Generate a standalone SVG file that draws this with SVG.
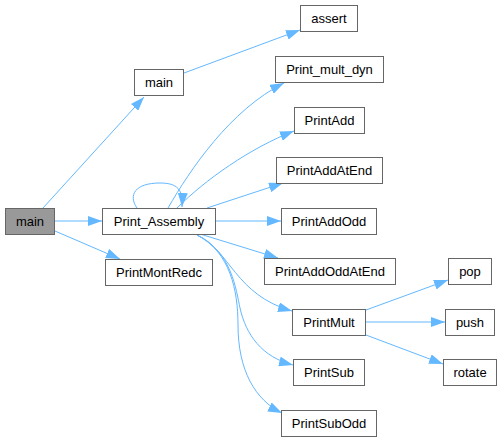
<svg xmlns="http://www.w3.org/2000/svg" width="503" height="443" viewBox="0 0 503 443">
<style>
.n rect{fill:#ffffff;stroke:#666666;stroke-width:1}
.n.g rect{fill:#999999}
.n text{font-family:"Liberation Sans",Arial,sans-serif;font-size:13px;fill:#000000;text-anchor:middle}
.e path{fill:none;stroke:#63b8ff;stroke-width:1;marker-end:url(#ah)}
</style>
<defs>
<marker id="ah" markerUnits="userSpaceOnUse" markerWidth="14" markerHeight="10" refX="14" refY="5" orient="auto" viewBox="0 0 14 10">
<path d="M0,0 L14,5 L0,10 z" fill="#63b8ff" stroke="none"/>
</marker>
</defs>
<rect width="503" height="443" fill="#ffffff"/>
<g id="connectors" class="e">
<path d="M43,208 L144,97"/>
<path d="M55,221 L102,221"/>
<path d="M55,231 L120,259"/>
<path d="M184,73 L300,30"/>
<path d="M137,208 C128,195 135,183 160,183 C178,183 183,190 182,207"/>
<path d="M168,208 C190,170 230,110 284,83"/>
<path d="M177,208 C205,180 250,148 294,131"/>
<path d="M207,208 L283,183"/>
<path d="M216,221 L281,221"/>
<path d="M200,234 L278,258"/>
<path d="M197,235 C230,250 235,295 292,311"/>
<path d="M197,235 C232,252 236,290 240,308 C246,335 262,357 293,365"/>
<path d="M197,235 C230,252 238,290 238,325 C238,370 255,400 282,413"/>
<path d="M366,310 L448,280"/>
<path d="M366,322 L445,322"/>
<path d="M366,335 L443,364"/>
</g>
<g id="main" class="n g"><rect x="5.5" y="208.5" width="49" height="26"/><text x="30" y="226">main</text></g>
<g id="main2" class="n"><rect x="134.5" y="69.5" width="49" height="26"/><text x="159" y="87">main</text></g>
<g id="assert" class="n"><rect x="300.5" y="5.5" width="57" height="26"/><text x="329" y="23">assert</text></g>
<g id="Print_Assembly" class="n"><rect x="102.5" y="208.5" width="113" height="26"/><text x="159" y="226">Print_Assembly</text></g>
<g id="PrintMontRedc" class="n"><rect x="105.5" y="259.5" width="107" height="26"/><text x="159" y="277">PrintMontRedc</text></g>
<g id="Print_mult_dyn" class="n"><rect x="275.5" y="56.5" width="108" height="26"/><text x="329.5" y="74">Print_mult_dyn</text></g>
<g id="PrintAdd" class="n"><rect x="294.5" y="107.5" width="70" height="26"/><text x="329.5" y="125">PrintAdd</text></g>
<g id="PrintAddAtEnd" class="n"><rect x="276.5" y="157.5" width="106" height="26"/><text x="329.5" y="175">PrintAddAtEnd</text></g>
<g id="PrintAddOdd" class="n"><rect x="281.5" y="208.5" width="95" height="26"/><text x="329" y="226">PrintAddOdd</text></g>
<g id="PrintAddOddAtEnd" class="n"><rect x="264.5" y="258.5" width="131" height="26"/><text x="330" y="276">PrintAddOddAtEnd</text></g>
<g id="PrintMult" class="n"><rect x="292.5" y="309.5" width="73" height="26"/><text x="329" y="327">PrintMult</text></g>
<g id="PrintSub" class="n"><rect x="293.5" y="359.5" width="71" height="26"/><text x="329" y="377">PrintSub</text></g>
<g id="PrintSubOdd" class="n"><rect x="281.5" y="410.5" width="95" height="26"/><text x="329" y="428">PrintSubOdd</text></g>
<g id="pop" class="n"><rect x="448.5" y="258.5" width="43" height="26"/><text x="470" y="276">pop</text></g>
<g id="push" class="n"><rect x="445.5" y="309.5" width="49" height="26"/><text x="470" y="327">push</text></g>
<g id="rotate" class="n"><rect x="443.5" y="359.5" width="53" height="26"/><text x="470" y="377">rotate</text></g>
</svg>
